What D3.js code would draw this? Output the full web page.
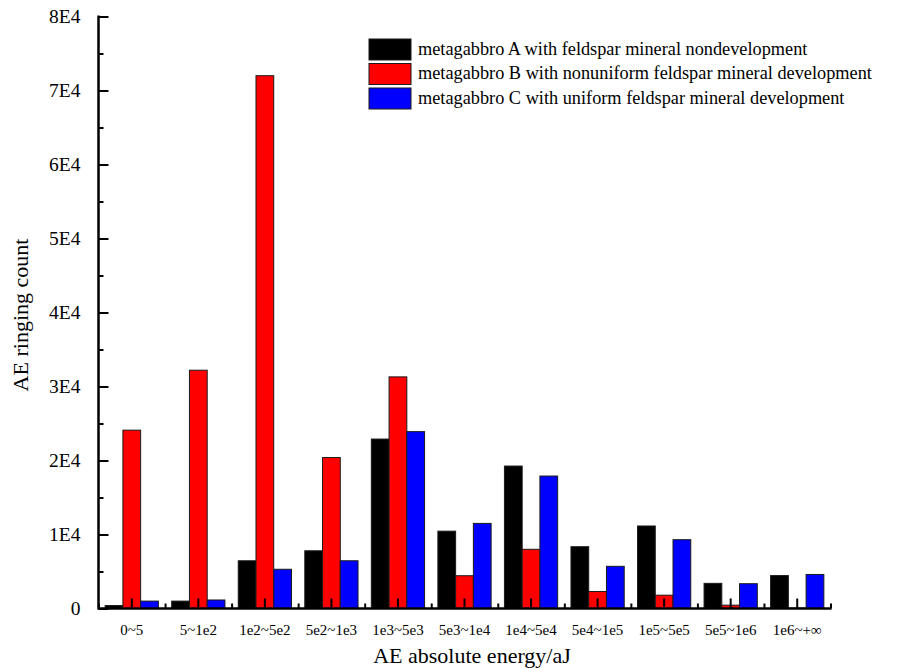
<!DOCTYPE html>
<html>
<head>
<meta charset="utf-8">
<script src="https://cdn.jsdelivr.net/npm/d3@7"></script>
<style>
  body { margin: 0; background: #fff; }
  text { font-family: "Liberation Serif", "Times New Roman", serif; fill: #000; }
</style>
</head>
<body>
<svg id="chart" width="905" height="668"></svg>
<script>
// AE ringing count by absolute-energy band for three metagabbro samples
const categories = ["0~5", "5~1e2", "1e2~5e2", "5e2~1e3", "1e3~5e3", "5e3~1e4",
                    "1e4~5e4", "5e4~1e5", "1e5~5e5", "5e5~1e6", "1e6~+\u221E"];
const seriesNames = [
  "metagabbro A with feldspar mineral nondevelopment",
  "metagabbro B with nonuniform feldspar mineral development",
  "metagabbro C with uniform feldspar mineral development"
];
const seriesColors = ["#000000", "#ff0000", "#0000ff"];
const valuesA = [400, 1000, 6450, 7800, 22900, 10450, 19250, 8350, 11150, 3400, 4450];
const valuesB = [24100, 32200, 72000, 20400, 31300, 4430, 8000, 2300, 1800, 450, 50];
const valuesC = [1000, 1150, 5300, 6450, 23900, 11500, 17900, 5700, 9300, 3350, 4600];
const yTickValues = [0, 10000, 20000, 30000, 40000, 50000, 60000, 70000, 80000];
const yTickLabels = ["0", "1E4", "2E4", "3E4", "4E4", "5E4", "6E4", "7E4", "8E4"];
const yMinorValues = [5000, 15000, 25000, 35000, 45000, 55000, 65000, 75000];

const svg = d3.select("#chart");
const plot = { left: 98.5, right: 830.5, top: 16.5, bottom: 608.5 };

const x = d3.scaleBand()
  .domain(categories)
  .range([plot.left, plot.right])
  .paddingInner(0.2)
  .paddingOuter(0.1);

const keys = [0, 1, 2];
const xInner = d3.scaleBand().domain(keys).range([0, x.bandwidth()]);

const y = d3.scaleLinear().domain([0, 80000]).range([plot.bottom, plot.top]);

const allSeries = [valuesA, valuesB, valuesC];
const rows = categories.map((c, i) => ({ cat: c, vals: keys.map(k => allSeries[k][i]) }));

// bars
const groups = svg.append("g").selectAll("g")
  .data(rows)
  .join("g")
  .attr("transform", d => `translate(${x(d.cat)},0)`);

groups.selectAll("rect")
  .data(d => d.vals.map((v, k) => ({ k, v })))
  .join("rect")
  .attr("x", d => xInner(d.k))
  .attr("width", xInner.bandwidth())
  .attr("y", d => y(d.v))
  .attr("height", d => y(0) - y(d.v))
  .attr("fill", d => seriesColors[d.k])
  .attr("stroke", "#1a1a1a")
  .attr("stroke-width", 1);

// x axis: labels and long inward ticks at category centres
const xAxis = d3.axisBottom(x).tickSize(-10).tickPadding(16);
const gx = svg.append("g")
  .attr("transform", `translate(0,${plot.bottom})`)
  .call(xAxis);
gx.select(".domain").remove();
gx.selectAll(".tick line").attr("stroke", "#000").attr("stroke-width", 2);
gx.selectAll(".tick text").attr("font-size", 15).style("font-family", "Liberation Serif");

// short inward ticks at category boundaries
const xBound = d3.scaleLinear().domain([0, categories.length]).range([plot.left, plot.right]);
const gxb = svg.append("g")
  .attr("transform", `translate(0,${plot.bottom})`)
  .call(d3.axisBottom(xBound).tickValues(d3.range(categories.length + 1)).tickSize(-5).tickFormat(""));
gxb.select(".domain").remove();
gxb.selectAll(".tick line").attr("stroke", "#000").attr("stroke-width", 2);

// y axis with major ticks pointing inward
const yAxis = d3.axisLeft(y)
  .tickValues(yTickValues)
  .tickFormat((d, i) => yTickLabels[i])
  .tickSize(-10)
  .tickPadding(18);
const gy = svg.append("g")
  .attr("transform", `translate(${plot.left},0)`)
  .call(yAxis);
gy.select(".domain").remove();
gy.selectAll(".tick line").attr("stroke", "#000").attr("stroke-width", 2);
gy.selectAll(".tick text").attr("font-size", 19.5).style("font-family", "Liberation Serif");

const gym = svg.append("g")
  .attr("transform", `translate(${plot.left},0)`)
  .call(d3.axisLeft(y).tickValues(yMinorValues).tickSize(-5).tickFormat(""));
gym.select(".domain").remove();
gym.selectAll(".tick line").attr("stroke", "#000").attr("stroke-width", 2);

// axis lines
svg.append("line")
  .attr("x1", plot.left).attr("x2", plot.left)
  .attr("y1", y(80000) - 1).attr("y2", plot.bottom + 1)
  .attr("stroke", "#000").attr("stroke-width", 2.5);
svg.append("line")
  .attr("x1", plot.left).attr("x2", plot.right + 1)
  .attr("y1", plot.bottom).attr("y2", plot.bottom)
  .attr("stroke", "#000").attr("stroke-width", 2.5);

// axis titles
svg.append("text")
  .attr("x", 472).attr("y", 663)
  .attr("text-anchor", "middle")
  .attr("font-size", 22)
  .text("AE absolute energy/aJ");
svg.append("text")
  .attr("transform", "translate(28,315) rotate(-90)")
  .attr("text-anchor", "middle")
  .attr("font-size", 22)
  .text("AE ringing count");

// legend
const legend = svg.append("g").attr("transform", "translate(369,39)");
const items = legend.selectAll("g")
  .data(seriesNames)
  .join("g")
  .attr("transform", (d, i) => `translate(0,${i * 24.5})`);
items.append("rect")
  .attr("width", 42).attr("height", 21)
  .attr("fill", (d, i) => seriesColors[i])
  .attr("stroke", "#1a1a1a").attr("stroke-width", 1);
items.append("text")
  .attr("x", 49).attr("y", 15.5)
  .attr("font-size", 18.3)
  .text(d => d);
</script>
</body>
</html>
